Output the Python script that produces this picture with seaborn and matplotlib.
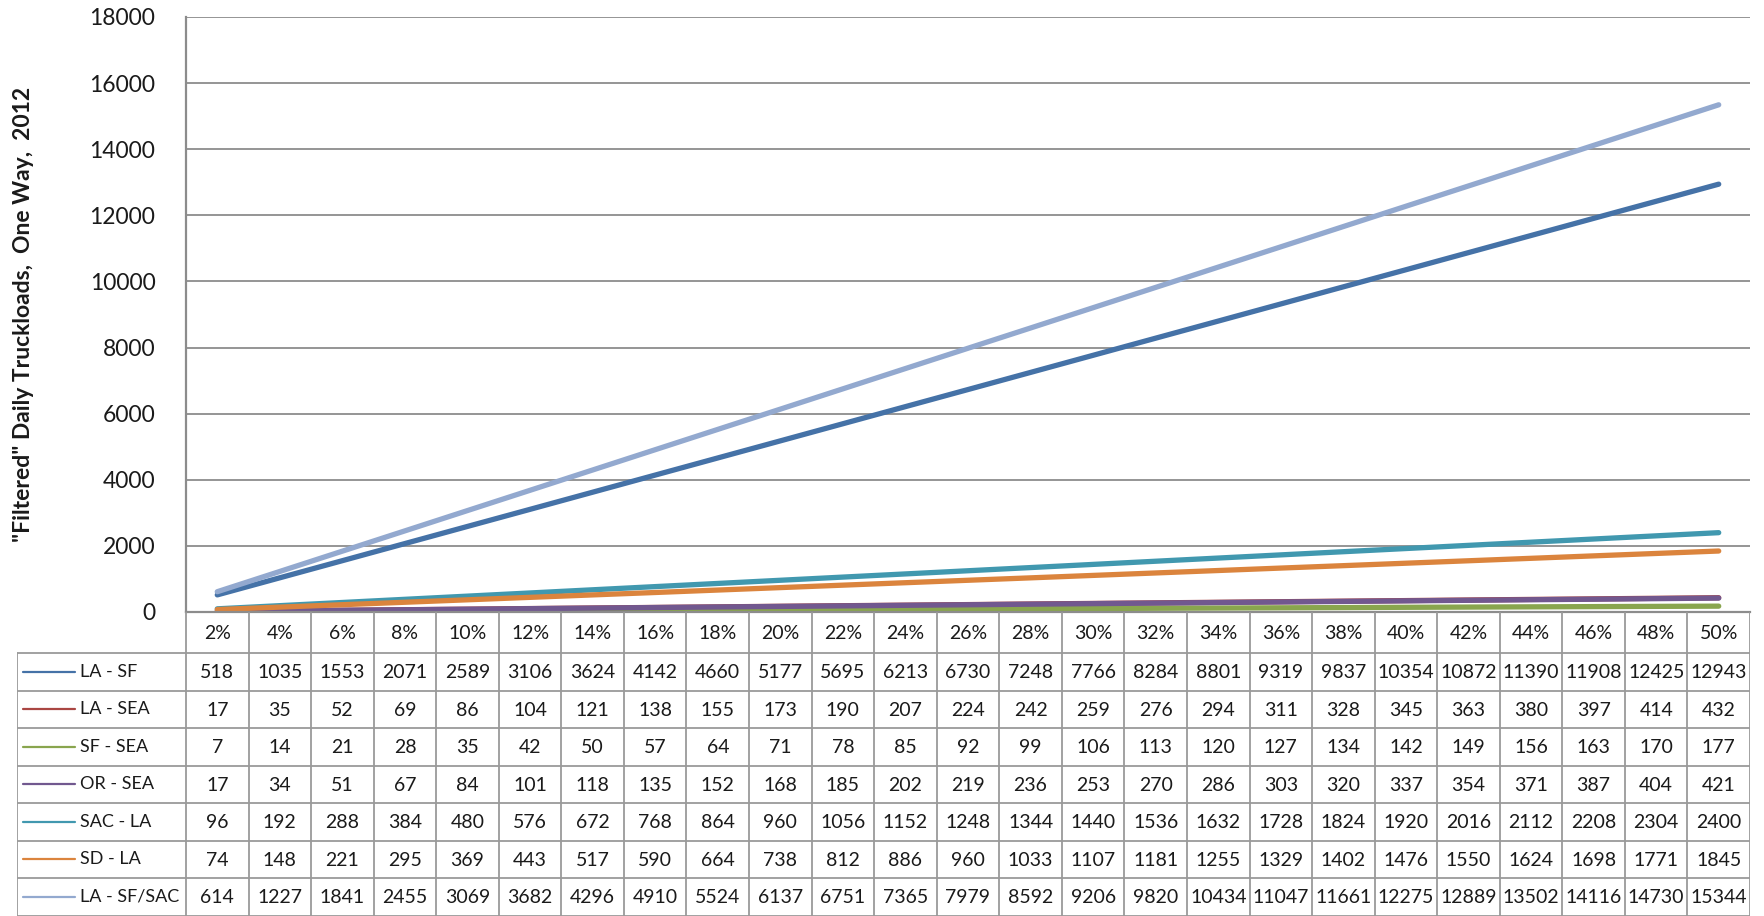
import numpy as np
import pandas as pd
import matplotlib
matplotlib.use("Agg")
import matplotlib.pyplot as plt
import seaborn as sns

categories = ["2%", "4%", "6%", "8%", "10%", "12%", "14%", "16%", "18%", "20%",
              "22%", "24%", "26%", "28%", "30%", "32%", "34%", "36%", "38%", "40%",
              "42%", "44%", "46%", "48%", "50%"]
la_sf = [518, 1035, 1553, 2071, 2589, 3106, 3624, 4142, 4660, 5177, 5695, 6213, 6730,
         7248, 7766, 8284, 8801, 9319, 9837, 10354, 10872, 11390, 11908, 12425, 12943]
la_sea = [17, 35, 52, 69, 86, 104, 121, 138, 155, 173, 190, 207, 224, 242, 259, 276,
          294, 311, 328, 345, 363, 380, 397, 414, 432]
sf_sea = [7, 14, 21, 28, 35, 42, 50, 57, 64, 71, 78, 85, 92, 99, 106, 113, 120, 127,
          134, 142, 149, 156, 163, 170, 177]
or_sea = [17, 34, 51, 67, 84, 101, 118, 135, 152, 168, 185, 202, 219, 236, 253, 270,
          286, 303, 320, 337, 354, 371, 387, 404, 421]
sac_la = [96, 192, 288, 384, 480, 576, 672, 768, 864, 960, 1056, 1152, 1248, 1344,
          1440, 1536, 1632, 1728, 1824, 1920, 2016, 2112, 2208, 2304, 2400]
sd_la = [74, 148, 221, 295, 369, 443, 517, 590, 664, 738, 812, 886, 960, 1033, 1107,
         1181, 1255, 1329, 1402, 1476, 1550, 1624, 1698, 1771, 1845]
la_sf_sac = [614, 1227, 1841, 2455, 3069, 3682, 4296, 4910, 5524, 6137, 6751, 7365,
             7979, 8592, 9206, 9820, 10434, 11047, 11661, 12275, 12889, 13502, 14116,
             14730, 15344]
routes = ["LA - SF", "LA - SEA", "SF - SEA", "OR - SEA", "SAC - LA", "SD - LA", "LA - SF/SAC"]
series = [la_sf, la_sea, sf_sea, or_sea, sac_la, sd_la, la_sf_sac]
colors = ["#4572A7", "#AA4643", "#89A54E", "#71588F", "#4198AF", "#DB843D", "#93A9CF"]
yticks = [0, 2000, 4000, 6000, 8000, 10000, 12000, 14000, 16000, 18000]
ylabel = '"Filtered" Daily Truckloads,  One Way,  2012'

sns.set_style("white")
plt.rcParams["font.family"] = ["Lato", "DejaVu Sans"]

rows = []
for r, vals in zip(routes, series):
    for i, (c, v) in enumerate(zip(categories, vals)):
        rows.append({"route": r, "pos": i, "cat": c, "value": v})
df = pd.DataFrame(rows)

W, H = 1765, 916
fig = plt.figure(figsize=(W / 100, H / 100), dpi=100)
L, R, T, B = 186, 1750, 17, 612
ax = fig.add_axes([L / W, 1 - B / H, (R - L) / W, (B - T) / H])

sns.lineplot(data=df, x="pos", y="value", hue="route", hue_order=routes,
             palette=dict(zip(routes, colors)), linewidth=3.8, legend=False,
             sort=False, ax=ax)
for ln in ax.lines:
    ln.set_solid_capstyle("round")

n = len(categories)
ax.set_xlim(-0.5, n - 0.5)
ax.set_ylim(0, 18000)
ax.set_yticks(yticks)
ax.set_yticklabels([str(t) for t in yticks])
ax.set_xticks([])
ax.set_xlabel("")
ax.set_ylabel(ylabel, fontsize=16.5, fontweight="bold", color="#1a1a1a")
ax.yaxis.set_label_coords((34 - L) / (R - L), 0.5)
ax.tick_params(axis="y", length=0, pad=22, labelsize=16.5, labelcolor="#1a1a1a")
ax.grid(axis="y", color="#8c8c8c", linewidth=1.3)
ax.set_axisbelow(True)
for s in ["top", "right"]:
    ax.spines[s].set_visible(False)
for s in ["left", "bottom"]:
    ax.spines[s].set_color("#8c8c8c")
    ax.spines[s].set_linewidth(1.6)

# data table below the chart
TL = 17
cw = (R - L) / n
xl = -0.5 - (L - TL) / cw
axt = fig.add_axes([TL / W, 0, (R - TL) / W, (H - B) / H])
axt.set_xlim(xl, n - 0.5)
axt.set_ylim(H - B, 0)
axt.axis("off")
gc = "#9a9a9a"
hh = 41
rh = 37.5
for i in range(n + 1):
    axt.plot([i - 0.5, i - 0.5], [0, H - B], color=gc, lw=1.3, solid_capstyle="butt")
axt.plot([xl, xl], [hh, H - B], color=gc, lw=1.3)
for k in range(len(routes) + 1):
    y = hh + rh * k
    axt.plot([xl, n - 0.5], [y, y], color=gc, lw=1.3)
for i, c in enumerate(categories):
    axt.text(i, hh / 2 + 1, c, ha="center", va="center", fontsize=14, color="#1a1a1a")
for k, (r, vals, col) in enumerate(zip(routes, series, colors)):
    yc = hh + rh * (k + 0.5)
    x0 = xl + (23 - TL) / cw
    x1 = xl + (75 - TL) / cw
    axt.plot([x0, x1], [yc, yc], color=col, lw=1.6)
    axt.text(xl + (80 - TL) / cw, yc, r, ha="left", va="center", fontsize=13,
             color="#1a1a1a")
    for i, v in enumerate(vals):
        axt.text(i, yc + 1, str(v), ha="center", va="center", fontsize=14,
                 color="#1a1a1a")

fig.savefig("out.png", dpi=100)
